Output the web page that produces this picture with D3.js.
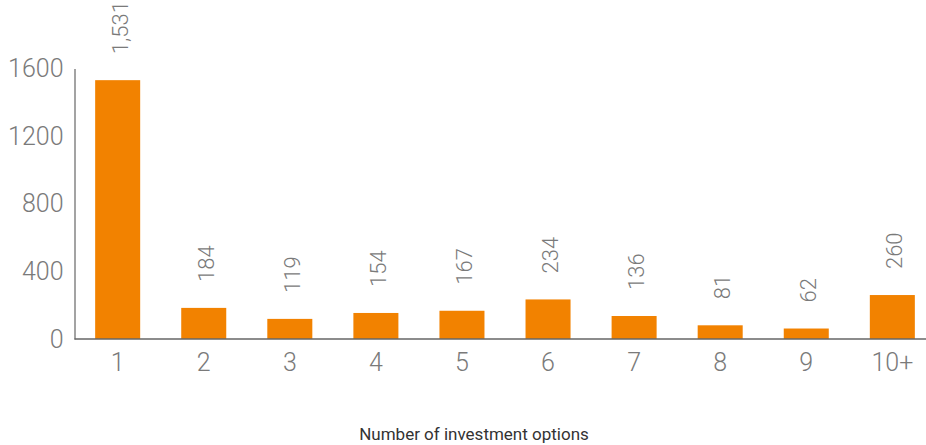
<!DOCTYPE html>
<html>
<head>
<meta charset="utf-8">
<script src="https://cdn.jsdelivr.net/npm/d3@7"></script>
<style>
  body { margin: 0; background: #fff; }
  text { font-family: Roboto, sans-serif; }
</style>
</head>
<body>
<div id="chart"></div>
<script>
// data
let categories = ['1', '2', '3', '4', '5', '6', '7', '8', '9', '10+'];
let counts = [1531, 184, 119, 154, 167, 234, 136, 81, 62, 260];
let yTicks = [0, 400, 800, 1200, 1600];
let xTitle = 'Number of investment options';

let width = 926,
    height = 445;

let svg = d3.select('#chart')
  .append('svg')
    .attr('width', width)
    .attr('height', height);

let xScale = d3.scaleBand()
  .domain(categories)
  .range([74.5, 935.5])
  .paddingInner(0.477)
  .paddingOuter(0.24);

let yScale = d3.scaleLinear()
  .domain([0, 1600])
  .range([339, 68.5]);

// y axis: just the line and the numbers
let yAxis = svg.append('g')
  .attr('transform', 'translate(74.5,0)')
  .call(d3.axisLeft(yScale).tickValues(yTicks).tickFormat(d3.format('d')).tickSize(0).tickPadding(11));
yAxis.select('.domain').attr('stroke', '#666').attr('stroke-width', 1.2);
yAxis.selectAll('text')
  .attr('fill', '#7a7a7a')
  .style('font-size', '25px')
  .style('font-weight', 300);

// bars
svg.append('g')
  .selectAll('rect')
  .data(counts)
  .join('rect')
    .attr('x', (d, i) => xScale(categories[i]))
    .attr('y', d => yScale(d))
    .attr('width', xScale.bandwidth())
    .attr('height', d => yScale(0) - yScale(d))
    .attr('fill', '#f28200');

// baseline + category labels
let xAxis = svg.append('g')
  .attr('transform', 'translate(0,' + yScale(0) + ')')
  .call(d3.axisBottom(xScale).tickSize(0).tickPadding(14));
xAxis.select('.domain')
  .attr('d', 'M74.5,0H' + width)
  .attr('stroke', '#666')
  .attr('stroke-width', 1.5);
xAxis.selectAll('text')
  .attr('fill', '#7a7a7a')
  .style('font-size', '25px')
  .style('font-weight', 300);

// value labels, turned on their side
svg.append('g')
  .selectAll('text')
  .data(counts)
  .join('text')
    .attr('transform', (d, i) => 'translate(' + (xScale(categories[i]) + xScale.bandwidth() / 2 + 10) + ',' + (yScale(d) - 26) + ') rotate(-90)')
    .attr('fill', '#7a7a7a')
    .style('font-size', '22px')
    .style('font-weight', 300)
    .text(d => d3.format(',')(d));

// axis title
svg.append('text')
  .attr('x', 474)
  .attr('y', 440)
  .attr('text-anchor', 'middle')
  .attr('fill', '#333')
  .style('font-size', '17px')
  .text(xTitle);
</script>
</body>
</html>
